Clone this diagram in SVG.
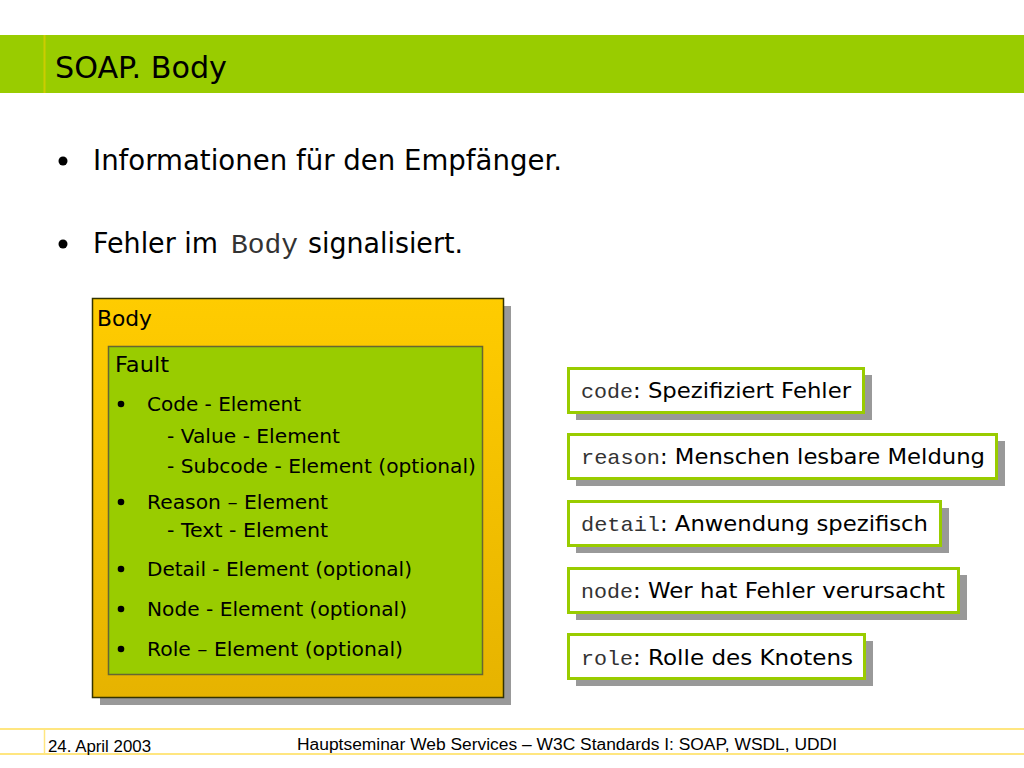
<svg xmlns="http://www.w3.org/2000/svg" width="1024" height="768" viewBox="0 0 1024 768">
<style>
.t{font-family:"DejaVu Sans","Verdana",sans-serif;fill:#000}
.m{font-family:"Liberation Mono","Courier New",monospace;fill:#333}
.f{font-family:"Liberation Sans",Arial,sans-serif;fill:#000;font-size:16px}
.sh{fill:#999}
.lb{fill:#fff;stroke:#99CC00;stroke-width:3}
</style>
<defs>
<linearGradient id="gy" x1="0" y1="0" x2="0" y2="1">
<stop offset="0" stop-color="#FFCC00"/>
<stop offset="1" stop-color="#E6B300"/>
</linearGradient>
</defs>
<rect width="1024" height="768" fill="#fff"/>
<g id="title">
<rect x="0" y="35" width="1024" height="58" fill="#99CC00"/>
<line x1="44.5" y1="35" x2="44.5" y2="93" stroke="#CCCC00" stroke-width="2"/>
<text class="t" x="55" y="78" font-size="31" textLength="172" lengthAdjust="spacingAndGlyphs">SOAP. Body</text>
</g>
<g id="bullets">
<circle cx="63" cy="161" r="4.5" fill="#000"/>
<text class="t" x="93" y="170" font-size="28" textLength="469" lengthAdjust="spacingAndGlyphs">Informationen für den Empfänger.</text>
<circle cx="63" cy="244" r="4.5" fill="#000"/>
<text class="t" x="93" y="253" font-size="28" textLength="125" lengthAdjust="spacingAndGlyphs">Fehler im</text>
<text class="m" x="231" y="253" font-size="27" textLength="67" lengthAdjust="spacingAndGlyphs">Body</text>
<text class="t" x="308" y="253" font-size="28" textLength="155" lengthAdjust="spacingAndGlyphs">signalisiert.</text>
</g>
<g id="body">
<rect class="sh" x="100" y="306" width="411" height="399"/>
<rect x="92.5" y="298.5" width="411" height="399" fill="url(#gy)" stroke="#333300" stroke-width="1.5"/>
<text class="t" x="97" y="326" font-size="22" textLength="55" lengthAdjust="spacingAndGlyphs">Body</text>
</g>
<g id="fault">
<rect x="108.5" y="346.5" width="374" height="328" fill="#99CC00" stroke="#666633" stroke-width="1.5"/>
<text class="t" x="115" y="372" font-size="22" textLength="54" lengthAdjust="spacingAndGlyphs">Fault</text>
<g font-size="20">
<circle cx="121" cy="404" r="3.3" fill="#000"/>
<text class="t" x="147" y="411" font-size="20" textLength="154" lengthAdjust="spacingAndGlyphs">Code - Element</text>
<text class="t" x="167" y="443" font-size="20" textLength="173" lengthAdjust="spacingAndGlyphs">- Value - Element</text>
<text class="t" x="167" y="473" font-size="20" textLength="309" lengthAdjust="spacingAndGlyphs">- Subcode - Element (optional)</text>
<circle cx="121" cy="502" r="3.3" fill="#000"/>
<text class="t" x="147" y="509" font-size="20" textLength="181" lengthAdjust="spacingAndGlyphs">Reason – Element</text>
<text class="t" x="167" y="537" font-size="20" textLength="161" lengthAdjust="spacingAndGlyphs">- Text - Element</text>
<circle cx="121" cy="569" r="3.3" fill="#000"/>
<text class="t" x="147" y="576" font-size="20" textLength="265" lengthAdjust="spacingAndGlyphs">Detail - Element (optional)</text>
<circle cx="121" cy="609" r="3.3" fill="#000"/>
<text class="t" x="147" y="616" font-size="20" textLength="260" lengthAdjust="spacingAndGlyphs">Node - Element (optional)</text>
<circle cx="121" cy="649" r="3.3" fill="#000"/>
<text class="t" x="147" y="656" font-size="20" textLength="256" lengthAdjust="spacingAndGlyphs">Role – Element (optional)</text>
</g>
</g>
<g id="code">
<rect class="sh" x="576" y="375" width="296" height="45"/>
<rect class="lb" x="568.5" y="368.5" width="295" height="44"/>
<text class="m" x="581" y="398" font-size="21" textLength="52" lengthAdjust="spacingAndGlyphs">code</text>
<text class="t" x="633" y="398" font-size="22" textLength="218" lengthAdjust="spacingAndGlyphs">: Spezifiziert Fehler</text>
</g>
<g id="reason">
<rect class="sh" x="576" y="441" width="429" height="45"/>
<rect class="lb" x="568.5" y="434.5" width="428" height="44"/>
<text class="m" x="581" y="464" font-size="21" textLength="79" lengthAdjust="spacingAndGlyphs">reason</text>
<text class="t" x="660" y="464" font-size="22" textLength="325" lengthAdjust="spacingAndGlyphs">: Menschen lesbare Meldung</text>
</g>
<g id="detail">
<rect class="sh" x="576" y="508" width="373" height="45"/>
<rect class="lb" x="568.5" y="501.5" width="372" height="44"/>
<text class="m" x="581" y="531" font-size="21" textLength="79" lengthAdjust="spacingAndGlyphs">detail</text>
<text class="t" x="660" y="531" font-size="22" textLength="268" lengthAdjust="spacingAndGlyphs">: Anwendung spezifisch</text>
</g>
<g id="node">
<rect class="sh" x="576" y="575" width="391" height="45"/>
<rect class="lb" x="568.5" y="568.5" width="390" height="44"/>
<text class="m" x="581" y="598" font-size="21" textLength="52" lengthAdjust="spacingAndGlyphs">node</text>
<text class="t" x="633" y="598" font-size="22" textLength="312" lengthAdjust="spacingAndGlyphs">: Wer hat Fehler verursacht</text>
</g>
<g id="role">
<rect class="sh" x="576" y="641" width="297" height="45"/>
<rect class="lb" x="568.5" y="634.5" width="296" height="44"/>
<text class="m" x="581" y="665" font-size="21" textLength="52" lengthAdjust="spacingAndGlyphs">role</text>
<text class="t" x="633" y="665" font-size="22" textLength="220" lengthAdjust="spacingAndGlyphs">: Rolle des Knotens</text>
</g>
<g id="footer">
<line x1="0" y1="729" x2="1024" y2="729" stroke="#FFE680" stroke-width="2"/>
<line x1="0" y1="754" x2="1024" y2="754" stroke="#FFE680" stroke-width="2"/>
<line x1="44.5" y1="729" x2="44.5" y2="754" stroke="#FFE680" stroke-width="1.5"/>
<text class="f" x="48" y="752" textLength="103" lengthAdjust="spacingAndGlyphs">24. April 2003</text>
<text class="f" x="297" y="750" textLength="540" lengthAdjust="spacingAndGlyphs">Hauptseminar Web Services – W3C Standards I: SOAP, WSDL, UDDI</text>
</g>
</svg>
